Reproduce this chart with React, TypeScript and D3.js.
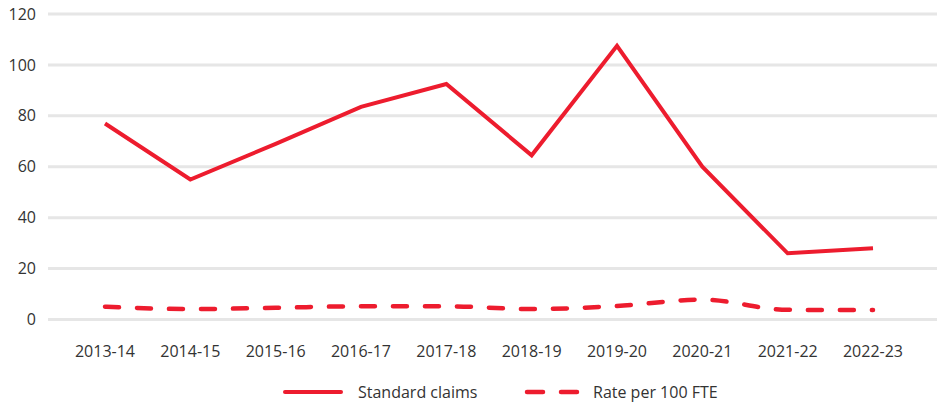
import * as d3 from "d3"
import { useEffect, useRef } from "react"

const years = [
  "2013-14", "2014-15", "2015-16", "2016-17", "2017-18",
  "2018-19", "2019-20", "2020-21", "2021-22", "2022-23"
]
const standardClaims = [77, 55, 69, 83.5, 92.5, 64.5, 107.5, 60, 26, 28]
const ratePer100 = [5, 4.1, 4.6, 5.2, 5.2, 4.1, 5.3, 7.8, 3.8, 3.7]
const yTicks = [0, 20, 40, 60, 80, 100, 120]

const RED = "#ED1C2E"

const App = () => {
  const svgRef = useRef<SVGSVGElement | null>(null)

  useEffect(() => {
    if (!svgRef.current) return
    const svg = d3.select(svgRef.current)
    svg.selectAll("*").remove()

    const x = d3.scalePoint<string>().domain(years).range([105, 873])
    const y = d3.scaleLinear().domain([0, 120]).range([319.5, 14])

    // Gridlines
    svg
      .append("g")
      .selectAll("line")
      .data(yTicks)
      .enter()
      .append("line")
      .attr("x1", 48)
      .attr("x2", 937)
      .attr("y1", d => y(d))
      .attr("y2", d => y(d))
      .attr("stroke", "#e6e6e6")
      .attr("stroke-width", 3)

    // Y labels
    svg
      .append("g")
      .selectAll("text")
      .data(yTicks)
      .enter()
      .append("text")
      .attr("x", 36)
      .attr("y", d => y(d))
      .attr("dy", "0.35em")
      .attr("text-anchor", "end")
      .style("font-size", "16px")
      .style("fill", "#333")
      .text(d => d)

    // X labels
    svg
      .append("g")
      .selectAll("text")
      .data(years)
      .enter()
      .append("text")
      .attr("x", d => x(d) ?? 0)
      .attr("y", 351)
      .attr("dy", "0.35em")
      .attr("text-anchor", "middle")
      .style("font-size", "16px")
      .style("fill", "#333")
      .text(d => d)

    // Standard claims line
    const line = d3
      .line<number>()
      .x((_d, i) => x(years[i]) ?? 0)
      .y(d => y(d))

    svg
      .append("path")
      .datum(standardClaims)
      .attr("d", line)
      .attr("fill", "none")
      .attr("stroke", RED)
      .attr("stroke-width", 4)

    // Rate per 100 FTE (dashed, smoothed)
    const smooth = d3
      .line<number>()
      .x((_d, i) => x(years[i]) ?? 0)
      .y(d => y(d))
      .curve(d3.curveMonotoneX)

    svg
      .append("path")
      .datum(ratePer100)
      .attr("d", smooth)
      .attr("fill", "none")
      .attr("stroke", RED)
      .attr("stroke-width", 4.5)
      .attr("stroke-linecap", "round")
      .attr("stroke-dasharray", "14 18")

    // Legend
    const legend = svg.append("g").attr("transform", "translate(0,392)")
    legend
      .append("line")
      .attr("x1", 285)
      .attr("x2", 341)
      .attr("stroke", RED)
      .attr("stroke-width", 4)
      .attr("stroke-linecap", "round")
    legend
      .append("text")
      .attr("x", 358)
      .attr("dy", "0.35em")
      .style("font-size", "16px")
      .style("fill", "#333")
      .text("Standard claims")
    legend
      .append("line")
      .attr("x1", 527)
      .attr("x2", 579)
      .attr("stroke", RED)
      .attr("stroke-width", 4.5)
      .attr("stroke-linecap", "round")
      .attr("stroke-dasharray", "16 18")
    legend
      .append("text")
      .attr("x", 593)
      .attr("dy", "0.35em")
      .style("font-size", "16px")
      .style("fill", "#333")
      .text("Rate per 100 FTE")
  }, [])

  return (
    <svg
      ref={svgRef}
      width={939}
      height={408}
      style={{
        position: "fixed",
        left: 0,
        top: 0,
        background: "#fff",
        fontFamily: "'Open Sans', sans-serif"
      }}
    />
  )
}

export default App
